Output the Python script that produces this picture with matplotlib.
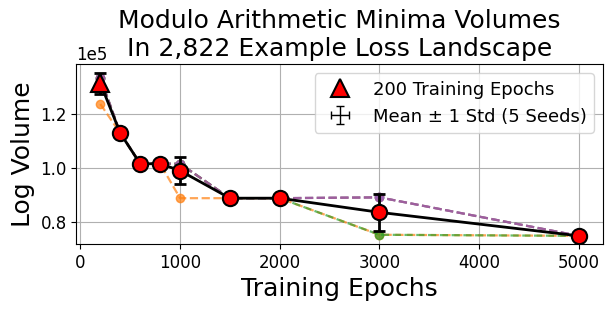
import numpy as np
import matplotlib
matplotlib.use("Agg")
import matplotlib.pyplot as plt

epochs = [200, 400, 600, 800, 1000, 1500, 2000, 3000, 5000]
seed_volumes = [
    [133450, 112900, 101500, 101500, 101500, 88700, 88700, 89000, 74700],  # seed 0
    [123700, 112900, 101500, 101500, 88700, 88700, 88700, 75100, 74700],   # seed 1
    [133450, 112900, 101500, 101500, 101500, 88700, 88700, 75100, 74700],  # seed 2
    [133450, 112900, 101500, 101500, 101500, 88700, 88700, 89000, 74700],  # seed 3
    [133450, 112900, 101500, 101500, 101500, 88700, 88700, 89000, 74700],  # seed 4
]
seed_colors = ["tab:blue", "tab:orange", "tab:green", "tab:red", "tab:purple"]

data = np.array(seed_volumes, dtype=float)
mean = data.mean(axis=0)
std = data.std(axis=0)
x = np.array(epochs)

fig = plt.figure(figsize=(6.11, 3.11), dpi=100)
ax = fig.add_axes([0.125, 0.2154, 0.8615, 0.5776])

for vals, c in zip(seed_volumes, seed_colors):
    ax.plot(x, vals, linestyle="--", marker="o", color=c, alpha=0.7,
            linewidth=1.6, markersize=6)

ax.plot(x, mean, color="black", linewidth=2, zorder=5)
ax.errorbar(x, mean, yerr=std, fmt="none", ecolor="black",
            elinewidth=2, capsize=4, capthick=2, zorder=6)
ax.plot(x[1:], mean[1:], linestyle="none", marker="o", markersize=11,
        markerfacecolor="red", markeredgecolor="black", markeredgewidth=1.5,
        zorder=7)
tri = ax.plot(x[:1], mean[:1], linestyle="none", marker="^", markersize=13,
              markerfacecolor="red", markeredgecolor="black", markeredgewidth=1.5,
              zorder=8, label="200 Training Epochs")[0]
proxy = ax.errorbar([np.nan], [np.nan], yerr=[1], xerr=[1], fmt="none",
                    ecolor="black", elinewidth=1, capsize=3, capthick=1,
                    label="Mean \u00b1 1 Std (5 Seeds)")

ax.grid(True)
ax.ticklabel_format(axis="y", style="sci", scilimits=(0, 0))
ax.tick_params(labelsize=12)
ax.yaxis.get_offset_text().set_fontsize(12)
ax.set_xlabel("Training Epochs", fontsize=18)
ax.set_ylabel("Log Volume", fontsize=18)
ax.set_title("Modulo Arithmetic Minima Volumes\nIn 2,822 Example Loss Landscape", fontsize=18)

ax.legend([tri, proxy], ["200 Training Epochs", "Mean \u00b1 1 Std (5 Seeds)"],
          loc="upper right", fontsize=13)

fig.savefig("out.png", dpi=100)
